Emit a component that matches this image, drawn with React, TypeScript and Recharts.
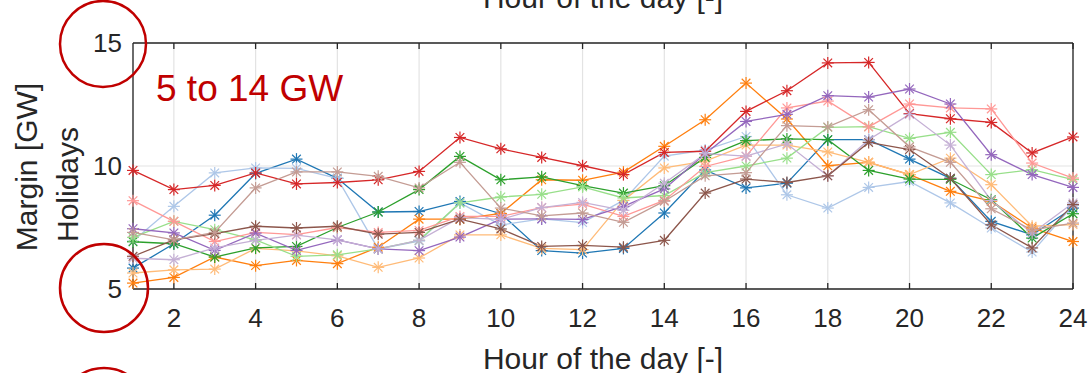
import React from "react";
import {
  LineChart,
  Line,
  XAxis,
  YAxis,
  CartesianGrid,
} from "recharts";

const hours = [1, 2, 3, 4, 5, 6, 7, 8, 9, 10, 11, 12, 13, 14, 15, 16, 17, 18, 19, 20, 21, 22, 23, 24];
const xTicks = [2, 4, 6, 8, 10, 12, 14, 16, 18, 20, 22, 24];
const yTicks = [5, 10, 15];

const blue = [5.85, 6.84, 8.0, 9.7, 10.28, 9.5, 8.13, 8.15, 8.56, 8.06, 6.56, 6.46, 6.65, 8.09, 9.84, 9.11, 9.3, 11.07, 11.07, 10.28, 9.5, 7.75, 7.2, 8.29];
const lightBlue = [6.95, 8.36, 9.72, 9.92, 9.9, 9.5, 6.63, 6.95, 8.5, 7.6, 7.85, 7.7, 8.6, 10.4, 10.65, 11.2, 8.83, 8.29, 9.13, 9.37, 8.5, 7.48, 6.5, 8.4];
const orange = [5.24, 5.47, 6.3, 5.95, 6.16, 6.03, 6.7, 7.84, 7.84, 8.07, 9.44, 9.42, 9.75, 10.8, 11.88, 13.37, 11.91, 10.01, 10.15, 9.65, 8.97, 8.57, 7.48, 6.93];
const lightOrange = [5.65, 5.78, 5.81, 6.65, 6.55, 6.35, 5.88, 6.26, 7.2, 7.2, 6.65, 6.6, 8.6, 9.92, 10.2, 10.85, 10.85, 10.57, 10.15, 9.65, 10.32, 9.24, 7.55, 7.62];
const green = [6.92, 6.84, 6.3, 6.67, 6.73, 7.5, 8.13, 9.04, 10.39, 9.44, 9.56, 9.2, 8.9, 9.2, 10.35, 11.03, 11.1, 11.07, 9.82, 9.47, 9.46, 8.63, 7.07, 8.06];
const lightGreen = [7.1, 7.75, 7.41, 7.0, 6.33, 6.39, 6.63, 6.98, 8.5, 8.74, 8.85, 9.15, 8.7, 8.8, 9.73, 10.0, 10.32, 11.57, 11.6, 11.12, 11.37, 9.65, 9.85, 9.45];
const red = [9.82, 9.04, 9.21, 9.72, 9.27, 9.33, 9.44, 9.78, 11.16, 10.7, 10.35, 10.01, 9.65, 10.55, 10.6, 12.22, 13.06, 14.19, 14.21, 12.13, 11.92, 11.77, 10.53, 11.18];
const lightRed = [8.59, 7.75, 6.93, 7.3, 7.21, 7.5, 7.3, 7.38, 7.95, 7.95, 8.31, 8.45, 7.95, 8.6, 9.98, 10.4, 12.36, 12.64, 11.59, 12.52, 12.36, 12.32, 10.12, 9.51];
const purple = [7.45, 7.28, 6.57, 7.27, 6.57, 7.0, 6.63, 6.56, 7.11, 7.84, 7.85, 7.83, 8.36, 9.07, 10.5, 11.81, 12.1, 12.86, 12.8, 13.13, 12.52, 10.46, 9.65, 9.13];
const lightPurple = [6.25, 6.19, 6.67, 6.98, 7.19, 7.0, 6.63, 6.98, 7.9, 7.83, 8.31, 8.52, 8.2, 9.3, 10.5, 10.4, 10.9, 9.6, 11.07, 12.1, 10.85, 8.6, 7.27, 8.5];
const brown = [6.33, 7.0, 7.25, 7.55, 7.48, 7.55, 7.23, 7.3, 7.84, 7.44, 6.73, 6.77, 6.7, 6.98, 8.9, 9.47, 9.33, 9.6, 10.96, 10.67, 9.5, 7.61, 6.67, 8.43];
const lightBrown = [7.3, 7.0, 7.3, 9.11, 9.76, 9.76, 9.58, 9.11, 10.15, 8.29, 7.97, 8.09, 7.71, 8.57, 9.6, 9.73, 11.64, 11.59, 12.29, 10.78, 10.15, 8.26, 7.4, 7.68];

const series = [
  { key: "s1", values: blue, color: "#1f77b4" },
  { key: "s2", values: lightBlue, color: "#aec7e8" },
  { key: "s3", values: orange, color: "#ff7f0e" },
  { key: "s4", values: lightOrange, color: "#ffbb78" },
  { key: "s5", values: green, color: "#2ca02c" },
  { key: "s6", values: lightGreen, color: "#98df8a" },
  { key: "s7", values: red, color: "#d62728" },
  { key: "s8", values: lightRed, color: "#ff9896" },
  { key: "s9", values: purple, color: "#9467bd" },
  { key: "s10", values: lightPurple, color: "#c5b0d5" },
  { key: "s11", values: brown, color: "#8c564b" },
  { key: "s12", values: lightBrown, color: "#c49c94" },
];

const rows = hours.map((h, i) => {
  const r: Record<string, number> = { hour: h };
  series.forEach((s) => (r[s.key] = s.values[i]));
  return r;
});

const FONT = '"Liberation Sans", Arial, Helvetica, sans-serif';
const INK = "#262626";
const ANNOT = "#c00000";

// matlab-style "*" marker
function Star(props: any) {
  const { cx, cy, stroke } = props;
  if (cx == null || cy == null) return null;
  const r = 6;
  const d = r * 0.72;
  return (
    <g stroke={stroke} strokeWidth={1.2} fill="none">
      <line x1={cx - r} y1={cy} x2={cx + r} y2={cy} />
      <line x1={cx} y1={cy - r} x2={cx} y2={cy + r} />
      <line x1={cx - d} y1={cy - d} x2={cx + d} y2={cy + d} />
      <line x1={cx - d} y1={cy + d} x2={cx + d} y2={cy - d} />
    </g>
  );
}

export default function App() {
  const tickStyle = { fontSize: 26, fill: INK, fontFamily: FONT };
  const blank = () => "";
  return (
    <div style={{ position: "absolute", left: 0, top: 0, width: 1091, height: 373, background: "#fff" }}>
      <LineChart
        width={1091}
        height={373}
        data={rows}
        margin={{ top: 43, right: 18, bottom: 44, left: 73 }}
      >
        <CartesianGrid stroke="#e3e3e3" strokeWidth={1.2} />
        {/* bottom axis with labels */}
        <XAxis
          dataKey="hour"
          type="number"
          domain={[1, 24]}
          ticks={xTicks}
          height={40}
          axisLine={{ stroke: INK, strokeWidth: 1.3 }}
          tickLine={false}
          tickSize={0}
          tickMargin={20}
          tick={tickStyle}
          interval={0}
        />
        {/* inward tick marks, bottom */}
        <XAxis
          xAxisId="bIn"
          dataKey="hour"
          type="number"
          domain={[1, 24]}
          ticks={xTicks}
          mirror
          axisLine={false}
          tickLine={{ stroke: INK, strokeWidth: 1.3 }}
          tickSize={6}
          tickFormatter={blank}
          interval={0}
        />
        <XAxis
          xAxisId="top"
          orientation="top"
          dataKey="hour"
          type="number"
          domain={[1, 24]}
          ticks={xTicks}
          mirror
          axisLine={{ stroke: INK, strokeWidth: 1.3 }}
          tickLine={{ stroke: INK, strokeWidth: 1.3 }}
          tickSize={6}
          tickFormatter={blank}
          interval={0}
        />
        <YAxis
          type="number"
          domain={[5, 15]}
          ticks={yTicks}
          width={60}
          axisLine={{ stroke: INK, strokeWidth: 1.3 }}
          tickLine={false}
          tickSize={0}
          tickMargin={11}
          tick={tickStyle}
          interval={0}
        />
        <YAxis
          yAxisId="lIn"
          type="number"
          domain={[5, 15]}
          ticks={yTicks}
          mirror
          axisLine={false}
          tickLine={{ stroke: INK, strokeWidth: 1.3 }}
          tickSize={6}
          tickFormatter={blank}
          interval={0}
        />
        <YAxis
          yAxisId="right"
          orientation="right"
          type="number"
          domain={[5, 15]}
          ticks={yTicks}
          mirror
          axisLine={{ stroke: INK, strokeWidth: 1.3 }}
          tickLine={{ stroke: INK, strokeWidth: 1.3 }}
          tickSize={6}
          tickFormatter={blank}
          interval={0}
        />
        {series.map((s) => (
          <Line
            key={s.key}
            dataKey={s.key}
            stroke={s.color}
            strokeWidth={1.3}
            isAnimationActive={false}
            dot={(p: any) => <Star key={p.index} {...p} stroke={s.color} />}
            activeDot={false}
          />
        ))}
      </LineChart>
      <svg
        width={1091}
        height={373}
        style={{ position: "absolute", left: 0, top: 0, pointerEvents: "none" }}
      >
        <text x={603} y={8} textAnchor="middle" fontSize={30} fill={INK} fontFamily={FONT}>
          Hour of the day [-]
        </text>
        <text x={603} y={369} textAnchor="middle" fontSize={30} fill={INK} fontFamily={FONT}>
          Hour of the day [-]
        </text>
        <text x={36.7} y={167} textAnchor="middle" fontSize={30} fill={INK} fontFamily={FONT} transform="rotate(-90 36.7 167)">
          Margin [GW]
        </text>
        <text x={78.3} y={184.5} textAnchor="middle" fontSize={30} fill={INK} fontFamily={FONT} transform="rotate(-90 78.3 184.5)">
          Holidays
        </text>
        <text x={156} y={101} fontSize={37} fill={ANNOT} fontFamily={FONT}>
          5 to 14 GW
        </text>
        <circle cx={103} cy={44} r={43} fill="none" stroke={ANNOT} strokeWidth={2.5} />
        <circle cx={104} cy={288} r={44} fill="none" stroke={ANNOT} strokeWidth={2.5} />
        <circle cx={104} cy={412} r={44} fill="none" stroke={ANNOT} strokeWidth={2.5} />
      </svg>
    </div>
  );
}
